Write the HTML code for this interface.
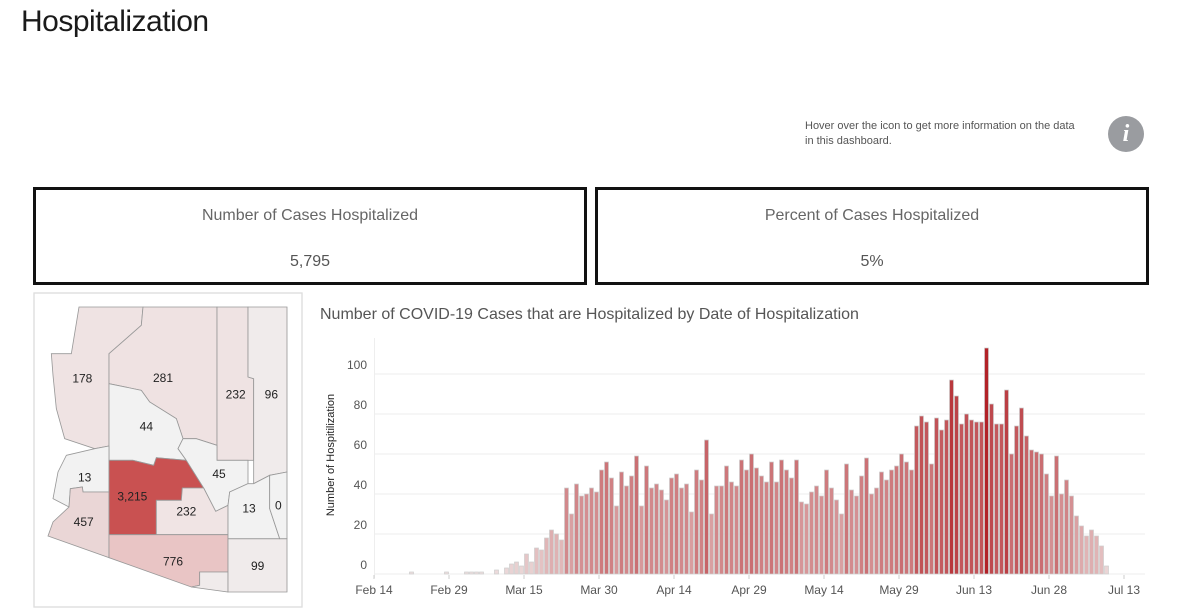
<!DOCTYPE html>
<html><head><meta charset="utf-8"><style>
body{margin:0;background:#fff;font-family:"Liberation Sans",sans-serif;}
#root{position:relative;width:1179px;height:613px;overflow:hidden;}
.abs{position:absolute;}
.kpi{position:absolute;border:3px solid #111;box-sizing:border-box;}
.kpi .l{position:absolute;left:0;right:0;top:17px;text-align:center;font-size:16px;color:#666;}
.kpi .v{position:absolute;left:0;right:0;top:63px;text-align:center;font-size:16px;color:#555;}
</style></head><body><div id="root">
<div class="abs" style="left:21px;top:5px;font-size:30px;color:#1a1a1a;letter-spacing:-0.5px;">Hospitalization</div>
<div class="abs" style="left:805px;top:119px;font-size:11px;line-height:15px;color:#555;width:300px;">Hover over the icon to get more information on the data<br>in this dashboard.</div>
<div class="abs" style="left:1108px;top:116px;width:36px;height:36px;border-radius:50%;background:#9a9ca0;color:#fff;font:italic bold 24px 'Liberation Serif',serif;text-align:center;line-height:36px;">i</div>
<div class="kpi" style="left:33px;top:187px;width:554px;height:98px;"><div class="l">Number of Cases Hospitalized</div><div class="v">5,795</div></div>
<div class="kpi" style="left:595px;top:187px;width:554px;height:98px;"><div class="l">Percent of Cases Hospitalized</div><div class="v">5%</div></div>

<svg class="abs" style="left:33px;top:292px;" width="270" height="316" viewBox="0 0 810 948">
<rect x="3" y="3" width="804" height="942" fill="#fff" stroke="#ddd" stroke-width="4"/>
<g stroke="#999" stroke-width="2.5" font-family="Liberation Sans, sans-serif" font-size="36">
<polygon fill="#efe3e3" points="55,185 115,185 138,45 330,45 325,100 228,185 228,462 185,470 95,440 70,350 60,250"/>
<polygon fill="#efe2e2" points="228,185 325,100 330,45 552,45 552,460 490,440 450,440 430,380 350,330 325,295 228,275"/>
<polygon fill="#efe3e3" points="552,45 645,45 645,255 662,260 662,505 552,505"/>
<polygon fill="#f0ebeb" points="645,45 762,45 762,540 710,550 662,575 662,260 645,255"/>
<polygon fill="#f2f2f2" points="228,275 325,295 350,330 430,380 450,440 435,470 460,505 370,497 362,520 300,505 228,505"/>
<polygon fill="#f2f2f2" points="100,490 185,470 228,462 228,600 150,600 148,585 112,590 108,645 60,620 75,540"/>
<polygon fill="#ead6d6" points="112,590 148,585 150,600 228,600 228,797 45,732 60,690 108,645"/>
<polygon fill="#c95151" points="228,505 300,505 362,520 370,497 460,505 512,588 448,588 445,625 370,625 370,728 228,728"/>
<polygon fill="#f2f2f2" points="435,470 450,440 490,440 552,460 552,505 645,505 645,575 590,600 585,640 548,658 512,588 460,505"/>
<polygon fill="#f0e4e4" points="370,625 445,625 448,588 512,588 548,658 585,640 585,728 370,728"/>
<polygon fill="#e9c5c5" points="228,728 585,728 585,840 500,840 500,880 475,885 228,797"/>
<polygon fill="#f0ebeb" points="500,840 585,840 585,900 475,885 500,880"/>
<polygon fill="#f0ebeb" points="585,740 762,740 762,900 585,900"/>
<polygon fill="#f2f2f2" points="590,600 645,575 662,575 710,550 710,650 740,740 585,740 585,640"/>
<polygon fill="#f2f2f2" points="710,550 762,540 762,740 740,740 710,650"/>
</g>
<g font-family="Liberation Sans, sans-serif" font-size="36" fill="#222" text-anchor="middle">
<text x="148" y="272">178</text><text x="390" y="270">281</text><text x="608" y="320">232</text><text x="715" y="320">96</text>
<text x="340" y="415">44</text><text x="155" y="568">13</text><text x="298" y="625">3,215</text><text x="558" y="558">45</text>
<text x="460" y="670">232</text><text x="152" y="702">457</text><text x="648" y="662">13</text><text x="736" y="652">0</text>
<text x="420" y="820">776</text><text x="674" y="834">99</text>
</g>
</svg>

<div class="abs" style="left:320px;top:306px;font-size:16px;color:#555;">Number of COVID-19 Cases that are Hospitalized by Date of Hospitalization</div>
<svg class="abs" id="chart" style="left:0;top:0;" width="1179" height="613"></svg>

<script>
const dayIndex=[7,14,18,19,20,21,24,26,27,28,29,30,31,32,33,34,35,36,37,38,39,40,41,42,43,44,45,46,47,48,49,50,51,52,53,54,55,56,57,58,59,60,61,62,63,64,65,66,67,68,69,70,71,72,73,74,75,76,77,78,79,80,81,82,83,84,85,86,87,88,89,90,91,92,93,94,95,96,97,98,99,100,101,102,103,104,105,106,107,108,109,110,111,112,113,114,115,116,117,118,119,120,121,122,123,124,125,126,127,128,129,130,131,132,133,134,135,136,137,138,139,140,141,142,143,144,145,146];
const hospValues=[1,1,1,1,1,1,2,3,5,6,4,10,6,13,12,18,22,20,17,43,30,45,39,40,43,41,52,56,48,34,51,44,49,59,34,54,43,45,42,37,48,50,43,45,31,52,47,67,30,44,44,54,46,44,57,52,60,53,49,46,56,46,57,52,48,57,36,35,41,44,39,52,43,37,30,55,42,39,49,58,40,43,51,47,52,54,60,56,52,74,79,76,55,78,72,77,97,89,75,80,77,76,76,113,85,75,75,92,60,74,83,69,62,61,60,50,39,59,40,47,39,29,24,19,22,19,14,4];
const yTicks=[0,20,40,60,80,100];
const xTickLabels=["Feb 14","Feb 29","Mar 15","Mar 30","Apr 14","Apr 29","May 14","May 29","Jun 13","Jun 28","Jul 13"];
const xTickDays=[0,15,30,45,60,75,90,105,120,135,150];

const NS="http://www.w3.org/2000/svg";
const svg=document.getElementById('chart');
const X0=374,PXD=5,Y0=574,PXV=2;
function xs(d){return X0+d*PXD;}
function ys(v){return Y0-v*PXV;}
function mk(t,a){const e=document.createElementNS(NS,t);for(const k in a)e.setAttribute(k,a[k]);svg.appendChild(e);return e;}
function col(v){const t=Math.min(1,v/113);const a=[238,226,226],b=[178,34,40];
 const c=a.map((x,i)=>Math.round(x+(b[i]-x)*Math.pow(t,0.8)));return `rgb(${c})`;}
yTicks.forEach(v=>{
 const g=mk('line',{x1:375,x2:1145,y1:ys(v),y2:ys(v),stroke:'#eee','stroke-width':1});
 
 
 const t=mk('text',{x:367,y:ys(v)-5,'text-anchor':'end','font-size':12,fill:'#555','font-family':'Liberation Sans, sans-serif'});
 t.textContent=v;
 
 
});
const ax=mk('line',{x1:374.5,x2:374.5,y1:338,y2:578,stroke:'#eee'});


dayIndex.forEach((d,i)=>{
 const v=hospValues[i];
 const r=mk('rect',{x:xs(d)+0.5,y:ys(v),width:4,height:v*PXV,fill:col(v),stroke:'#cdcdcd','stroke-width':0.7});
 
 
});
xTickDays.forEach((d,i)=>{
 const tk=mk('line',{x1:xs(d),x2:xs(d),y1:575,y2:579,stroke:'#ccc'});
 
 
 const t=mk('text',{x:xs(d),y:594,'text-anchor':'middle','font-size':12,fill:'#555','font-family':'Liberation Sans, sans-serif'});
 t.textContent=xTickLabels[i];
 
 
});
const yt=mk('text',{x:0,y:0,transform:'translate(334,455) rotate(-90)','text-anchor':'middle','font-size':11,fill:'#222','font-family':'Liberation Sans, sans-serif'});
yt.textContent='Number of Hospitilization';


</script>
</div></body></html>
